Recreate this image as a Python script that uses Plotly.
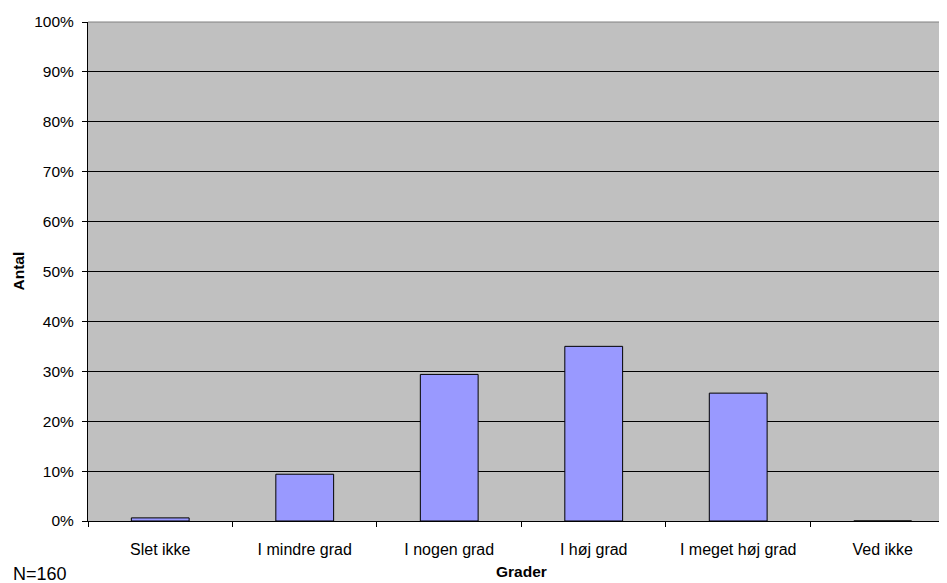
import plotly.graph_objects as go

# Besvarelser (N=160)
kategorier = ["Slet ikke", "I mindre grad", "I nogen grad", "I høj grad",
              "I meget høj grad", "Ved ikke"]
antal = [1, 15, 47, 56, 41, 0]
n_total = 160
andel = [a / n_total for a in antal]

BAR_FARVE = "#9999FF"
PLOT_BG = "#C0C0C0"
FONT = "Liberation Sans, Arial, sans-serif"

# siden har 8px kant, så figuren gøres 8px mindre
W, H = 939, 575
ML, MT, MB = 80, 14, 62
plot_h = H - MT - MB


def px_y(y_page):
    # sidekoordinat -> paper-y
    return (H - MB - (y_page - 8)) / plot_h


fig = go.Figure()

fig.add_trace(go.Bar(
    x=kategorier,
    y=andel,
    width=0.4,
    marker=dict(color=BAR_FARVE, line=dict(color="#000000", width=1)),
    hovertemplate="%{x}: %{y:.1%}<extra></extra>",
))

# grå ramme i toppen af plotområdet
fig.add_shape(type="line", xref="paper", yref="paper",
              x0=0, x1=1, y0=1, y1=1,
              line=dict(color="#808080", width=1))

fig.add_annotation(text="<b>Antal</b>", textangle=-90, xref="paper", yref="paper",
                   x=(18 - 8 - ML) / (W - ML), xanchor="center",
                   y=0.5, yanchor="middle", showarrow=False,
                   font=dict(size=15.5, color="#000000"))
fig.add_annotation(text="<b>Grader</b>", xref="x", yref="paper",
                   x=2.5, xanchor="center", y=px_y(571), yanchor="middle",
                   showarrow=False, font=dict(size=15.5, color="#000000"))
fig.add_annotation(text="N=160", xref="paper", yref="paper",
                   x=(11 - 8 - ML) / (W - ML), xanchor="left",
                   y=px_y(574), yanchor="middle",
                   showarrow=False, font=dict(size=18, color="#000000"))

fig.update_layout(
    width=W, height=H,
    paper_bgcolor="#FFFFFF",
    plot_bgcolor=PLOT_BG,
    font=dict(family=FONT, size=16, color="#000000"),
    margin=dict(l=ML, r=0, t=MT, b=MB, pad=0),
    showlegend=False,
    xaxis=dict(
        range=[-0.5, 5.445],
        showline=True, linecolor="#000000", linewidth=1,
        ticks="outside", tickson="boundaries", ticklen=5,
        tickcolor="#000000", showgrid=False,
        tickfont=dict(size=16), ticklabelstandoff=14,
    ),
    yaxis=dict(
        range=[0, 1], dtick=0.1, tickformat=".0%",
        showline=True, linecolor="#000000", linewidth=1,
        ticks="outside", ticklen=5, tickcolor="#000000",
        showgrid=True, gridcolor="#000000", gridwidth=1,
        zeroline=False, tickfont=dict(size=15.5), ticklabelstandoff=5,
    ),
)

fig.write_html("out.html")
